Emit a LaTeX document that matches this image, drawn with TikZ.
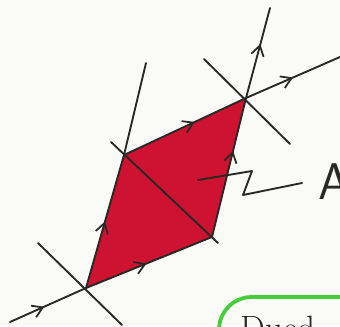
\documentclass[tikz,border=0pt]{standalone}
\usepackage{fontspec}
\usetikzlibrary{arrows.meta,decorations.markings}
\definecolor{paper}{RGB}{250,250,246}
\definecolor{ink}{RGB}{40,40,36}
\definecolor{marker}{RGB}{206,18,50}
\definecolor{hilite}{RGB}{70,205,60}
\tikzset{
  pen/.style={draw=ink, line width=1.6pt, line cap=round},
  midarrow/.style={postaction={decorate,decoration={markings,
      mark=at position #1 with {\arrow{Straight Barb[length=3mm,width=3.8mm,line width=1.5pt]}}}}}
}
\begin{document}
\begin{tikzpicture}[x=0.03cm,y=-0.03cm]
        \fill[paper] (0,0) rectangle (340,326);
        \useasboundingbox (0,0) rectangle (340,326);
        \clip (0,0) rectangle (340,326);

        % corners of the shaded cell
        \coordinate (b) at (86,288);
        \coordinate (l) at (124,155);
        \coordinate (t) at (246,98);
        \coordinate (r) at (212,237);

        \fill[marker] (b) -- (l) -- (t) -- (r) -- cycle;

        % free ends
        \coordinate (inb) at (10,322);
        \coordinate (upl) at (146,63);
        \coordinate (upt) at (270,8);
        \coordinate (rgt) at (340,57);

        \draw[pen, midarrow=0.45] (inb) -- (b);
        \draw[pen, midarrow=0.48] (b) -- (r);
        \draw[pen, midarrow=0.5] (b) -- (l);
        \draw[pen] (l) -- (upl);
        \draw[pen, midarrow=0.58] (l) -- (t);
        \draw[pen, midarrow=0.62] (r) -- (t);
        \draw[pen, midarrow=0.6] (t) -- (upt);
        \draw[pen, midarrow=0.5] (t) -- (rgt);

        % crossing strokes
        \draw[pen] (38,243) -- (122,325);
        \draw[pen] (204,59) -- (290,144);
        \draw[pen] (111,142) -- (218,243);

        % label pointer
        \draw[pen, line join=round] (198,180) -- (252,171) -- (243,195) -- (302,183);
        \node[anchor=west, inner sep=0pt, text=ink, font=\sffamily\fontsize{44}{44}\selectfont] (lab) at (318,182) {A};

        % green box at the bottom
        \draw[hilite, line width=3.2pt, rounded corners=28] (219,340) -- (219,297) -- (360,297);
        \node[anchor=north west, inner sep=0pt, text=ink, font=\fontsize{30}{30}\selectfont] (word) at (240,316) {Dued};
\end{tikzpicture}
\end{document}
